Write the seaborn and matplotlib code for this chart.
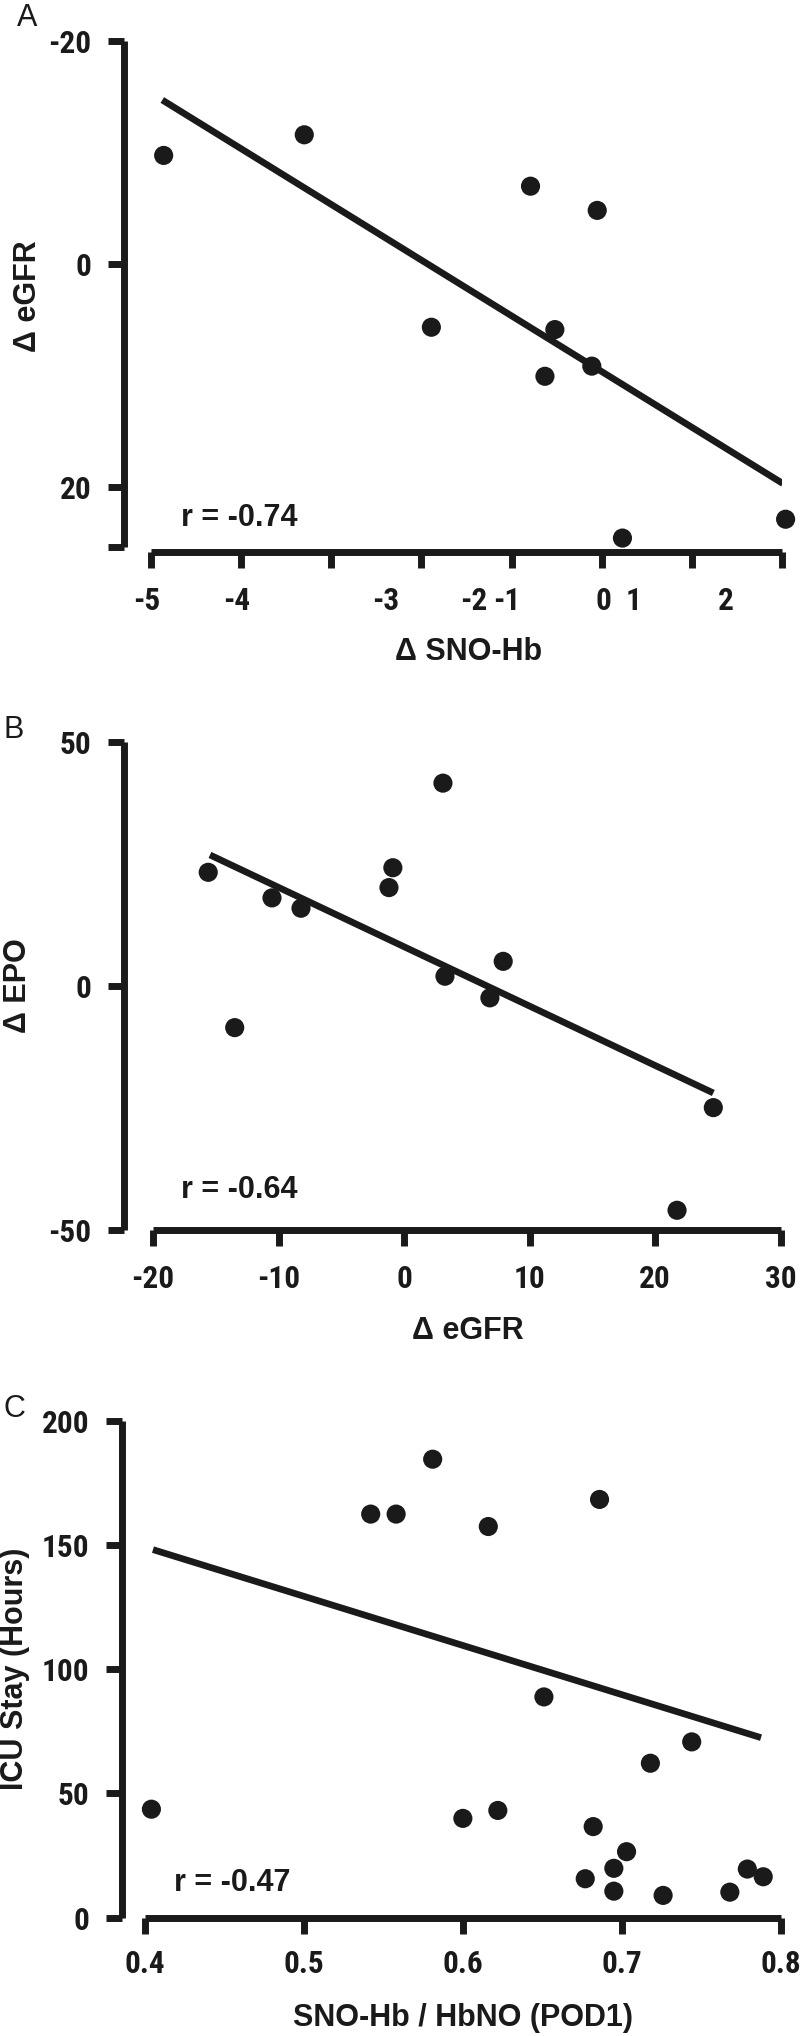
import matplotlib
matplotlib.use("Agg")
import matplotlib.pyplot as plt
import seaborn as sns
from matplotlib import font_manager

# ---------------- data ----------------
# Panel A
a_sno = [-4.86, -3.30, -0.79, -0.05, -1.89, -0.52, -0.63, -0.11, 0.23, 2.04]
a_egfr = [-9.71, -11.56, -6.95, -4.78, 5.70, 5.91, 10.10, 9.19, 24.61, 22.92]
a_fit_x = [-4.875, 2.01]
a_fit_y = [-14.68, 19.72]
a_yticks = [-20, 0, 20, 25.4]
a_ylabels = ["-20", "0", "20", ""]
a_xtick_marks = [-5, -4, -3, -2, -1, 0, 1, 2]
a_xlabel_pos = [-5.045, -4.046, -2.397, -1.417, -1.051, 0.014, 0.358, 1.379]
a_xlabels = ["-5", "-4", "-3", "-2", "-1", "0", "1", "2"]
a_r = "r = -0.74"

# Panel B
b_egfr = [-15.60, -13.49, -10.52, -8.21, -0.89, -1.20, 3.10, 3.26, 7.90, 6.84, 24.64, 21.75]
b_epo = [23.24, -8.58, 18.00, 15.88, 24.18, 20.11, 41.51, 1.95, 5.00, -2.48, -24.97, -46.00]
b_fit_x = [-15.46, 24.64]
b_fit_y = [26.8, -21.97]
b_xticks = [-20, -10, 0, 10, 20, 30]
b_yticks = [-50, 0, 50]
b_r = "r = -0.64"

# Panel C
c_ratio = [0.404, 0.542, 0.558, 0.581, 0.616, 0.686, 0.651, 0.600, 0.622, 0.682,
           0.703, 0.695, 0.677, 0.695, 0.726, 0.718, 0.744, 0.768, 0.779, 0.789]
c_icu = [43.6, 162.4, 162.4, 184.5, 157.4, 168.3, 88.8, 39.9, 43.1, 36.6,
         26.5, 19.8, 15.6, 10.6, 8.9, 62.1, 70.7, 10.2, 19.5, 16.4]
c_fit_x = [0.405, 0.7876]
c_fit_y = [148.1, 72.4]
c_xticks = [0.4, 0.5, 0.6, 0.7, 0.8]
c_xlabels = ["0.4", "0.5", "0.6", "0.7", "0.8"]
c_yticks = [0, 50, 100, 150, 200]
c_r = "r = -0.47"

# ---------------- style ----------------
sns.set_theme(style="white")
SANS = "Liberation Sans"
names = {f.name for f in font_manager.fontManager.ttflist}
NARROW = SANS
for cand in ["Liberation Sans Narrow", "Arial Narrow", "Roboto Condensed",
             "Open Sans Condensed", "DejaVu Sans Condensed"]:
    if cand in names:
        NARROW = cand
        break
plt.rcParams["font.family"] = [SANS, "DejaVu Sans"]
plt.rcParams["xtick.bottom"] = True
plt.rcParams["ytick.left"] = True

INK = "#1a1a1a"
LW = 5.0          # spine / tick width (pt)
TL = 11.5         # tick length (pt)
TICKFS = 22.5 if NARROW != SANS else 19.5
LABFS = 22

W, H = 800, 2036


def rect(l, t, r, b):
    return [l / W, 1 - b / H, (r - l) / W, (b - t) / H]


def fx(px):
    return px / W


def fy(py):
    return 1 - py / H


fig = plt.figure(figsize=(W / 100, H / 100), dpi=100)


def base_style(ax):
    sns.despine(ax=ax)
    for s in ["left", "bottom"]:
        ax.spines[s].set_linewidth(LW)
        ax.spines[s].set_color(INK)
        ax.spines[s].set_capstyle("butt")
    ax.tick_params(axis="both", which="both", direction="out", length=TL,
                   width=LW, color=INK, labelcolor=INK, pad=12,
                   bottom=True, left=True, top=False, right=False)
    ax.tick_params(axis="x", which="both", pad=13)
    ax.set_facecolor("none")


def points(ax, x, y, fx_, fy_):
    sns.lineplot(x=fx_, y=fy_, ax=ax, color=INK, linewidth=4.8,
                 solid_capstyle="butt", zorder=2, estimator=None, sort=False)
    sns.scatterplot(x=x, y=y, ax=ax, s=190, color=INK, edgecolor="none",
                    linewidth=0, clip_on=False, zorder=3, legend=False)


tick_kw = dict(fontfamily=NARROW, fontweight="bold", fontsize=TICKFS)
lab_kw = dict(fontfamily=SANS, fontweight="bold", fontsize=LABFS, color=INK)

# ---------------- Panel A ----------------
axA = fig.add_axes(rect(124, 40.7, 782, 552))
points(axA, a_sno, a_egfr, a_fit_x, a_fit_y)
axA.set_xlim(-5.30, 2.0)
axA.set_ylim(25.86, -20)
base_style(axA)
axA.set_yticks(a_yticks, labels=a_ylabels, **tick_kw)
axA.set_xticks(a_xtick_marks, minor=True)
axA.set_xticks(a_xlabel_pos, labels=a_xlabels, **tick_kw)
axA.tick_params(axis="x", which="major", color=(0, 0, 0, 0))
axA.set_xlabel("Δ SNO-Hb", **lab_kw)
axA.set_ylabel("Δ eGFR", **lab_kw)
axA.xaxis.set_label_coords(0.524, -0.1956)
axA.yaxis.set_label_coords(-0.1459, 0.5)

# ---------------- Panel B ----------------
axB = fig.add_axes(rect(124, 741.7, 780.6, 1229.8))
points(axB, b_egfr, b_epo, b_fit_x, b_fit_y)
axB.set_xlim(-22.31, 30)
axB.set_ylim(-50, 50)
base_style(axB)
axB.set_xticks(b_xticks, labels=[str(v) for v in b_xticks], **tick_kw)
axB.set_yticks(b_yticks, labels=[str(v) for v in b_yticks], **tick_kw)
axB.set_xlabel("Δ eGFR", **lab_kw)
axB.set_ylabel("Δ EPO", **lab_kw)
axB.xaxis.set_label_coords(0.524, -0.2074)
axB.yaxis.set_label_coords(-0.1614, 0.5)

# ---------------- Panel C ----------------
axC = fig.add_axes(rect(122, 1420.7, 780.7, 1917.5))
points(axC, c_ratio, c_icu, c_fit_x, c_fit_y)
axC.set_xlim(0.3855, 0.8)
axC.set_ylim(0, 200)
base_style(axC)
axC.set_xticks(c_xticks, labels=c_xlabels, **tick_kw)
axC.set_yticks(c_yticks, labels=[str(v) for v in c_yticks], **tick_kw)
axC.tick_params(axis="x", which="both", pad=11.5)
axC.set_xlabel("SNO-Hb / HbNO (POD1)", **lab_kw)
axC.set_ylabel("ICU Stay (Hours)", **lab_kw)
axC.xaxis.set_label_coords(0.518, -0.202)
axC.yaxis.set_label_coords(-0.1624, 0.5)

for ax in (axA, axB, axC):
    ax.xaxis.label.set_va("center")
    ax.yaxis.label.set_va("center")

# spine extents (set last so nothing resets them)
axA.spines["left"].set_bounds(-20, 25.4)
axA.spines["bottom"].set_bounds(-5, 2)
axB.spines["left"].set_bounds(-50, 50)
axB.spines["bottom"].set_bounds(-20, 30)
axC.spines["left"].set_bounds(0, 200)
axC.spines["bottom"].set_bounds(0.4, 0.8)

# ---------------- annotations ----------------
for txt, x, y in [(a_r, 181, 518), (b_r, 181, 1190.5), (c_r, 174, 1883)]:
    fig.text(fx(x), fy(y), txt, ha="left", va="center", **lab_kw)

for txt, x, y in [("A", 27.5, 18.5), ("B", 14, 730), ("C", 14.5, 1409)]:
    fig.text(fx(x), fy(y), txt, ha="center", va="center",
             fontfamily=SANS, fontsize=22, color=INK)

fig.savefig("out.png", dpi=100)
